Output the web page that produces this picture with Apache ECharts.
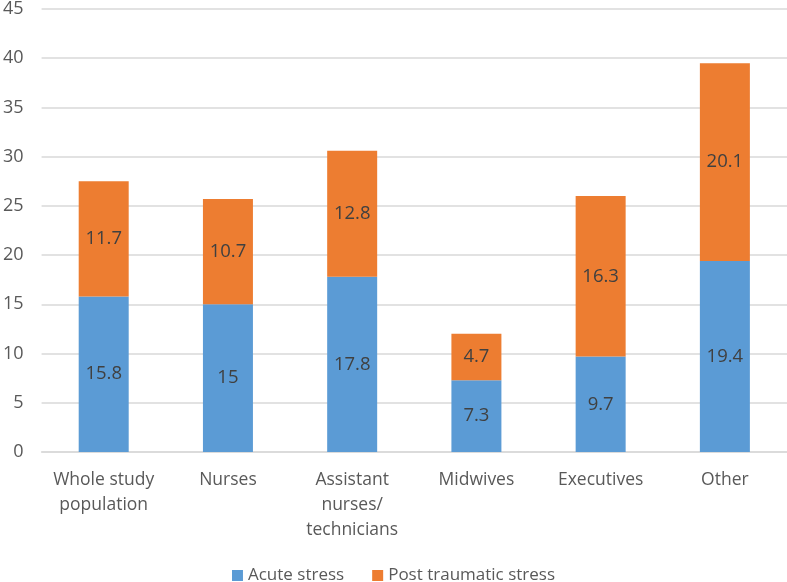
<!DOCTYPE html>
<html><head><meta charset="utf-8">
<script src="https://cdn.jsdelivr.net/npm/echarts@6/dist/echarts.min.js"></script>
<style>html,body{margin:0;padding:0;background:#fff}#c{width:787px;height:582px}</style>
</head><body><div id="c"></div>
<script>
var categories = ['Whole study\npopulation', 'Nurses', 'Assistant\nnurses/\ntechnicians', 'Midwives', 'Executives', 'Other'];
var acute = [15.8, 15, 17.8, 7.3, 9.7, 19.4];
var post = [11.7, 10.7, 12.8, 4.7, 16.3, 20.1];
var FONT = 'Open Sans';
var chart = echarts.init(document.getElementById('c'));
var lbl = {show: true, position: 'inside', color: '#404040', fontSize: 18.5, fontFamily: FONT};
chart.setOption({
  animation: false,
  textStyle: {fontFamily: FONT},
  grid: {left: 38, right: 0, top: 7, bottom: 130},
  legend: {
    bottom: -7, left: 'center', itemWidth: 11, itemHeight: 11, itemGap: 28,
    icon: 'rect',
    textStyle: {color: '#595959', fontSize: 17, fontFamily: FONT},
    data: ['Acute stress', 'Post traumatic stress']
  },
  xAxis: {
    type: 'category', data: categories,
    axisLine: {lineStyle: {color: '#d9d9d9', width: 1.5}},
    axisTick: {show: false},
    axisLabel: {color: '#595959', fontSize: 17.5, fontFamily: FONT, lineHeight: 25, margin: 16, interval: 0}
  },
  yAxis: {
    type: 'value', min: 0, max: 45, interval: 5,
    axisLine: {show: false}, axisTick: {show: false},
    splitLine: {lineStyle: {color: '#d9d9d9', width: 1.5}},
    axisLabel: {color: '#595959', fontSize: 18, fontFamily: FONT, margin: 18}
  },
  series: [
    {name: 'Acute stress', type: 'bar', stack: 's', data: acute, barWidth: 50,
     itemStyle: {color: '#5b9bd5'}, label: lbl},
    {name: 'Post traumatic stress', type: 'bar', stack: 's', data: post, barWidth: 50,
     itemStyle: {color: '#ed7d31'}, label: lbl}
  ]
});
</script></body></html>
